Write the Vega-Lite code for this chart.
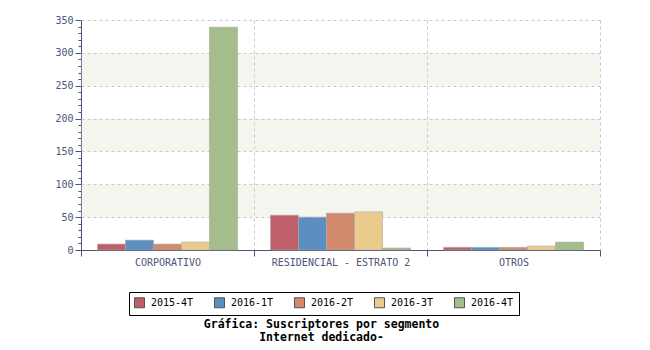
{
  "$schema": "https://vega.github.io/schema/vega-lite/v6.json",
  "autosize": "none",
  "width": 519,
  "height": 230,
  "padding": {"left": 81, "top": 20, "right": 50, "bottom": 100},
  "background": "white",
  "view": {"stroke": null},
  "config": {
    "font": "DejaVu Sans Mono",
    "axis": {"labelFont": "DejaVu Sans Mono", "labelFontSize": 10, "labelColor": "#4a5578", "domainColor": "#4a5578", "tickColor": "#4a5578"}
  },
  "title": {
    "text": ["Gráfica: Suscriptores por segmento", "Internet dedicado-"],
    "orient": "bottom",
    "anchor": "middle",
    "frame": "group",
    "font": "DejaVu Sans Mono",
    "fontSize": 11.5,
    "fontWeight": "bold",
    "color": "black",
    "lineHeight": 13,
    "offset": 3,
    "dx": -19
  },
  "datasets": {
    "bars": [
      {"segmento": "CORPORATIVO", "periodo": "2015-4T", "valor": 9},
      {"segmento": "CORPORATIVO", "periodo": "2016-1T", "valor": 15},
      {"segmento": "CORPORATIVO", "periodo": "2016-2T", "valor": 9},
      {"segmento": "CORPORATIVO", "periodo": "2016-3T", "valor": 12},
      {"segmento": "CORPORATIVO", "periodo": "2016-4T", "valor": 339},
      {"segmento": "RESIDENCIAL - ESTRATO 2", "periodo": "2015-4T", "valor": 53},
      {"segmento": "RESIDENCIAL - ESTRATO 2", "periodo": "2016-1T", "valor": 50},
      {"segmento": "RESIDENCIAL - ESTRATO 2", "periodo": "2016-2T", "valor": 56},
      {"segmento": "RESIDENCIAL - ESTRATO 2", "periodo": "2016-3T", "valor": 58},
      {"segmento": "RESIDENCIAL - ESTRATO 2", "periodo": "2016-4T", "valor": 3},
      {"segmento": "OTROS", "periodo": "2015-4T", "valor": 4},
      {"segmento": "OTROS", "periodo": "2016-1T", "valor": 4},
      {"segmento": "OTROS", "periodo": "2016-2T", "valor": 4},
      {"segmento": "OTROS", "periodo": "2016-3T", "valor": 6},
      {"segmento": "OTROS", "periodo": "2016-4T", "valor": 12}
    ],
    "bandas": [
      {"desde": 50, "hasta": 100},
      {"desde": 150, "hasta": 200},
      {"desde": 250, "hasta": 300}
    ]
  },
  "encoding": {
    "y": {
      "type": "quantitative",
      "scale": {"domain": [0, 350], "nice": false},
      "axis": {
        "title": null,
        "values": [0,10,20,30,40,50,60,70,80,90,100,110,120,130,140,150,160,170,180,190,200,210,220,230,240,250,260,270,280,290,300,310,320,330,340,350],
        "labelExpr": "datum.value % 50 === 0 ? datum.label : ''",
        "tickSize": {"condition": {"test": "datum.value % 50 === 0", "value": 6}, "value": 3},
        "labelPadding": 2,
        "grid": true, "gridColor": "#c8c8c8", "gridDash": [3, 3],
        "gridOpacity": {"condition": {"test": "datum.value % 50 === 0", "value": 1}, "value": 0}
      }
    }
  },
  "layer": [
    {
      "data": {"name": "bandas"},
      "mark": {"type": "rect", "color": "#dedecd", "opacity": 0.3},
      "encoding": {
        "y": {"field": "desde", "type": "quantitative"},
        "y2": {"field": "hasta"}
      }
    },
    {
      "data": {"name": "bars"},
      "mark": {"type": "bar", "stroke": "#a8a8a0", "strokeWidth": 0.6},
      "encoding": {
        "x": {
          "field": "segmento", "type": "nominal", "sort": null,
          "scale": {"paddingInner": 0, "paddingOuter": 0},
          "axis": {
            "title": null, "labelAngle": 0, "tickBand": "extent", "tickSize": 6,
            "labelPadding": 1,
            "grid": true, "gridColor": "#c8c8c8", "gridDash": [3, 3]
          }
        },
        "xOffset": {"field": "periodo", "type": "nominal", "scale": {"paddingInner": 0, "paddingOuter": 0.59}},
        "y": {"field": "valor", "type": "quantitative"},
        "color": {
          "field": "periodo", "type": "nominal",
          "scale": {"domain": ["2015-4T", "2016-1T", "2016-2T", "2016-3T", "2016-4T"], "range": ["#bf5f69", "#5b8fc2", "#d3896e", "#ebcb8c", "#a4bd8b"]},
          "legend": {
            "title": null, "orient": "none", "direction": "horizontal",
            "legendX": 48, "legendY": 272,
            "symbolType": "square", "symbolSize": 100, "symbolStrokeColor": "#555555", "symbolStrokeWidth": 1,
            "labelFont": "DejaVu Sans Mono", "labelFontSize": 10, "labelFontWeight": "normal", "labelColor": "black", "labelOffset": 6,
            "columnPadding": 18, "padding": 5,
            "strokeColor": "black", "fillColor": "white"
          }
        }
      }
    }
  ]
}
